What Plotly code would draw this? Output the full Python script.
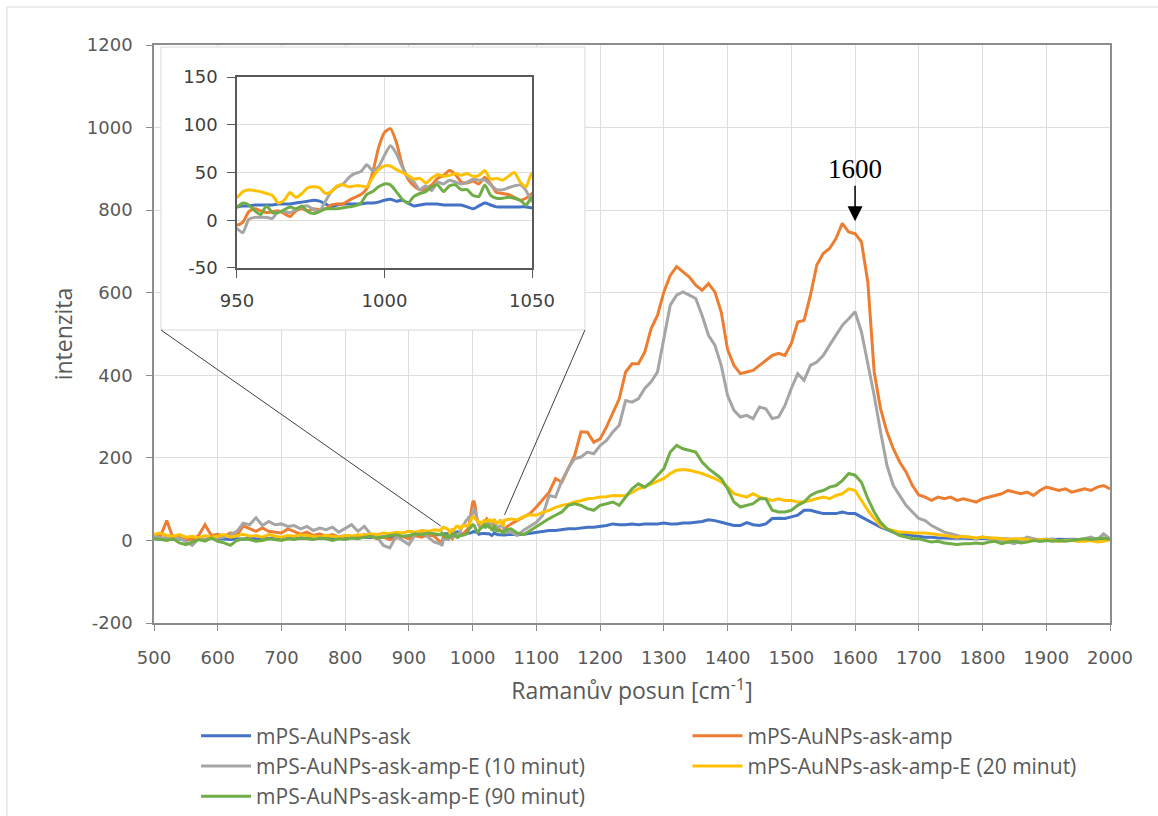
import plotly.graph_objects as go

# ---------------- data ----------------
X_LOW = list(range(500, 950, 10))      # 500..940
X_ZOOM = list(range(950, 1051, 2))     # 950..1050 (finer, shown in inset)
X_HIGH = list(range(1060, 2001, 10))   # 1060..2000
WAVENUMBER = X_LOW + X_ZOOM + X_HIGH

BLUE_LOW = [4, 3, 5, 2, 4, 3, 2, 4, 3, 5,
            4, 3, 2, 4, 3, 5, 4, 3, 5, 4,
            3, 5, 4, 6, 5, 4, 6, 5, 4, 6,
            5, 7, 6, 8, 7, 8, 9, 8, 10, 9,
            11, 12, 11, 13, 14]
BLUE_ZOOM = [14, 15, 15, 16, 16, 16, 16, 17, 17, 17,
             18, 19, 20, 21, 20, 17, 14, 16, 17, 17,
             17, 17, 18, 18, 19, 21, 22, 20, 21, 18,
             15, 16, 17, 17, 17, 16, 16, 16, 16, 14,
             12, 15, 18, 16, 14, 14, 14, 14, 14, 14, 13]
BLUE_HIGH = [15, 14, 15, 17,
             20, 22, 24, 24, 26, 28, 28, 30, 32, 32,
             34, 36, 40, 38, 38, 40, 38, 40, 40, 40,
             42, 40, 40, 42, 42, 44, 46, 50, 48, 44,
             40, 36, 36, 43, 38, 36, 40, 53, 54, 53,
             57, 61, 73, 73, 69, 65, 65, 65, 69, 65,
             65, 57, 48, 40, 32, 26, 20, 16, 14, 12,
             10, 8, 8, 6, 6, 5, 6, 5, 4, 4,
             5, 4, 3, 4, 3, 2, 3, 4, 3, 2,
             3, 2, 3, 2, 3, 2, 3, 2, 3, 4, 3]

ORANGE_LOW = [15, 10, 48, 5, 8, 4, 2, 12, 38, 12,
              15, 10, 18, 12, 35, 28, 22, 30, 22, 20,
              18, 28, 22, 15, 20, 12, 16, 10, 14, 8,
              12, 10, 6, 14, 10, 4, 8, 2, 6, 10,
              4, 12, 8, 14, 10]
ORANGE_ZOOM = [-5, -2, 9, 12, 10, 8, 9, 10, 7, 4,
               10, 12, 10, 12, 11, 12, 16, 17, 17, 21,
               24, 27, 33, 50, 76, 92, 96, 82, 58, 43,
               36, 32, 33, 37, 44, 47, 52, 48, 40, 39,
               41, 38, 45, 38, 29, 28, 27, 24, 21, 23, 28]
ORANGE_HIGH = [40, 48, 55, 65,
               81, 100, 117, 150, 141, 174, 206, 263, 262, 238,
               246, 275, 311, 343, 408, 428, 428, 456, 513, 545,
               602, 642, 663, 650, 638, 618, 606, 622, 602, 553,
               462, 424, 404, 408, 412, 424, 436, 448, 453, 448,
               477, 529, 533, 594, 667, 695, 707, 731, 768, 747,
               743, 723, 626, 408, 319, 263, 222, 190, 166, 133,
               110, 105, 97, 105, 101, 105, 97, 101, 97, 93,
               101, 105, 109, 113, 121, 117, 113, 117, 109, 121,
               129, 125, 121, 125, 117, 121, 125, 121, 129, 133, 125]

GRAY_LOW = [12, 5, 8, 2, 6, -4, -12, 4, 2, 6,
            5, 8, 14, 22, 42, 38, 55, 36, 46, 38,
            40, 34, 36, 28, 34, 24, 30, 26, 32, 20,
            30, 38, 22, 34, 15, 8, -12, -18, 10, 0,
            -10, 14, 22, 8, -4]
GRAY_ZOOM = [-9, -13, 1, 3, 3, 3, 2, 9, 9, 8,
             11, 14, 15, 11, 10, 20, 30, 35, 38, 45,
             49, 51, 58, 52, 56, 68, 78, 70, 56, 45,
             40, 32, 36, 31, 40, 38, 42, 40, 38, 40,
             43, 42, 42, 37, 32, 32, 34, 36, 37, 31, 20]
GRAY_HIGH = [20, 12, 25, 35,
             44, 61, 109, 105, 145, 175, 198, 202, 214, 210,
             230, 242, 263, 279, 339, 335, 343, 368, 384, 408,
             489, 570, 594, 602, 594, 586, 545, 497, 473, 424,
             351, 315, 299, 303, 295, 323, 319, 295, 299, 327,
             368, 404, 388, 424, 432, 448, 473, 497, 521, 537,
             554, 505, 432, 351, 263, 182, 133, 109, 85, 69,
             53, 48, 36, 28, 20, 16, 12, 8, 8, 4,
             8, 6, 4, 0, -4, -8, 0, 8, 4, -2,
             0, 4, -2, 0, 2, -2, 4, 8, 2, 16, 4]

YELLOW_LOW = [15, 18, 12, 10, 14, 8, 10, 6, 12, 8,
              10, 14, 8, 12, 15, 10, 12, 8, 14, 10,
              8, 12, 10, 14, 12, 10, 8, 12, 10, 8,
              12, 10, 14, 12, 16, 14, 18, 16, 20, 18,
              22, 20, 24, 22, 26]
YELLOW_ZOOM = [24, 30, 32, 31, 30, 28, 26, 18, 21, 29,
               24, 28, 34, 35, 34, 28, 30, 36, 37, 35,
               36, 36, 35, 45, 53, 57, 57, 53, 50, 47,
               43, 44, 39, 44, 48, 46, 47, 49, 47, 49,
               46, 47, 52, 43, 44, 42, 46, 50, 40, 35, 49]
YELLOW_HIGH = [52, 50, 58, 62,
               61, 68, 73, 80, 85, 88, 93, 96, 101, 102,
               105, 106, 109, 108, 109, 116, 125, 130, 137, 143,
               150, 162, 170, 172, 170, 166, 162, 156, 150, 142,
               130, 113, 109, 105, 113, 105, 101, 97, 101, 97,
               97, 93, 93, 97, 101, 105, 101, 109, 113, 125,
               121, 97, 73, 53, 36, 28, 24, 20, 20, 18,
               18, 18, 16, 14, 12, 10, 8, 10, 8, 6,
               8, 6, 6, 4, 2, 4, 4, 2, 0, 2,
               2, 0, -2, 0, 0, -2, -2, 0, -4, -2, 2]

GREEN_LOW = [5, 2, 0, 4, -6, -10, -4, 2, -2, 6,
             -2, -6, -12, 0, 4, 2, -2, 0, 4, 2,
             0, 4, 2, 6, 4, 2, 6, 4, 0, 4,
             2, 6, 4, 8, 10, 6, 8, 12, 14, 10,
             12, 16, 14, 18, 16]
GREEN_ZOOM = [14, 18, 16, 10, 6, 15, 8, 8, 11, 14,
              12, 15, 9, 7, 9, 12, 12, 12, 13, 14,
              15, 18, 27, 30, 35, 38, 37, 30, 22, 18,
              25, 28, 30, 35, 37, 30, 36, 37, 32, 32,
              26, 25, 37, 26, 23, 23, 24, 23, 21, 16, 24]
GREEN_HIGH = [28, 18, 14, 24,
              32, 44, 53, 61, 69, 85, 89, 85, 77, 73,
              85, 89, 93, 85, 105, 125, 137, 129, 141, 158,
              174, 214, 230, 222, 218, 214, 190, 174, 162, 150,
              125, 93, 81, 85, 89, 101, 101, 73, 69, 69,
              73, 85, 93, 109, 117, 121, 129, 133, 145, 162,
              158, 141, 101, 69, 44, 28, 20, 12, 8, 4,
              4, 0, -4, -2, -6, -8, -10, -8, -8, -6,
              -8, -4, -2, -8, -4, -2, -6, -4, 0, -2,
              0, -2, 0, -2, 0, 2, 4, 2, 4, 6, 2]

SERIES_NAMES = ["mPS-AuNPs-ask", "mPS-AuNPs-ask-amp", "mPS-AuNPs-ask-amp-E (10 minut)",
                "mPS-AuNPs-ask-amp-E (20 minut)", "mPS-AuNPs-ask-amp-E (90 minut)"]
SERIES_VALUES = [BLUE_LOW + BLUE_ZOOM + BLUE_HIGH,
                 ORANGE_LOW + ORANGE_ZOOM + ORANGE_HIGH,
                 GRAY_LOW + GRAY_ZOOM + GRAY_HIGH,
                 YELLOW_LOW + YELLOW_ZOOM + YELLOW_HIGH,
                 GREEN_LOW + GREEN_ZOOM + GREEN_HIGH]
SERIES_COLORS = ["#4472C4", "#ED7D31", "#A5A5A5", "#FFC000", "#70AD47"]
SERIES_LEGEND = ["legend", "legend2", "legend", "legend2", "legend"]

MAIN_X_TICKS = list(range(500, 2001, 100))
MAIN_Y_TICKS = list(range(-200, 1201, 200))
INSET_X_TICKS = [950, 1000, 1050]
INSET_Y_TICKS = [-50, 0, 50, 100, 150]
MAIN_X_RANGE = [MAIN_X_TICKS[0], MAIN_X_TICKS[-1]]
MAIN_Y_RANGE = [MAIN_Y_TICKS[0], MAIN_Y_TICKS[-1]]
INSET_X_RANGE = [INSET_X_TICKS[0], INSET_X_TICKS[-1]]
INSET_Y_RANGE = [INSET_Y_TICKS[0], INSET_Y_TICKS[-1]]
PEAK_LABEL_X = 1600
CONNECTOR_Y = [35, 62]

# ---------------- figure ----------------
fig = go.Figure()
for name, vals, col, lg in zip(SERIES_NAMES, SERIES_VALUES, SERIES_COLORS, SERIES_LEGEND):
    fig.add_trace(go.Scatter(x=WAVENUMBER, y=vals, name=name, mode="lines",
                             line=dict(color=col, width=3), legend=lg,
                             xaxis="x", yaxis="y"))
for name, vals, col in zip(SERIES_NAMES, SERIES_VALUES, SERIES_COLORS):
    fig.add_trace(go.Scatter(x=WAVENUMBER, y=vals, name=name, mode="lines",
                             line=dict(color=col, width=3, shape="spline", smoothing=0.6),
                             showlegend=False, xaxis="x2", yaxis="y2"))

TICK_FONT = dict(family="DejaVu Sans", size=18, color="#595959")
INSET_TICK_FONT = dict(family="DejaVu Sans", size=18, color="#404040")
LABEL_FONT = dict(family="Open Sans", size=21, color="#595959")
TITLE_FONT = dict(family="Open Sans", size=23, color="#595959")
AXIS_COLOR = "#8c8c8c"
GRID_COLOR = "#dedede"

fig.update_layout(
    width=1158, height=816,
    margin=dict(l=154, r=48, t=45, b=193, autoexpand=False),
    paper_bgcolor="white", plot_bgcolor="white",
    xaxis=dict(range=MAIN_X_RANGE, tickvals=MAIN_X_TICKS, ticktext=[str(v) for v in MAIN_X_TICKS],
               showgrid=True, gridcolor=GRID_COLOR,
               zeroline=False, showline=True, mirror=True, linecolor=AXIS_COLOR, linewidth=1.5,
               ticks="outside", ticklen=6, tickcolor=AXIS_COLOR, tickfont=TICK_FONT,
               ticklabelstandoff=12,
               title=dict(text="Ramanův posun [cm<sup>-1</sup>]", font=TITLE_FONT, standoff=16)),
    yaxis=dict(range=MAIN_Y_RANGE, tickvals=MAIN_Y_TICKS, ticktext=[str(v) for v in MAIN_Y_TICKS],
               showgrid=True, gridcolor=GRID_COLOR,
               zeroline=False, showline=True, mirror=True, linecolor=AXIS_COLOR, linewidth=1.5,
               ticks="outside", ticklen=6, tickcolor=AXIS_COLOR, tickfont=TICK_FONT,
               ticklabelstandoff=10,
               title=dict(text="intenzita", font=TITLE_FONT, standoff=8)),
    xaxis2=dict(domain=[0.0868, 0.3954], anchor="y2", range=INSET_X_RANGE,
                tickvals=INSET_X_TICKS, ticktext=[str(v) for v in INSET_X_TICKS],
                showgrid=True, gridcolor=GRID_COLOR, zeroline=False, showline=True, mirror=True,
                linecolor="#595959", linewidth=1.5, ticks="outside", ticklen=8, tickcolor="#595959",
                tickfont=INSET_TICK_FONT, ticklabelstandoff=8),
    yaxis2=dict(domain=[0.6142, 0.9446], anchor="x2", range=INSET_Y_RANGE,
                tickvals=INSET_Y_TICKS, ticktext=[str(v) for v in INSET_Y_TICKS],
                showgrid=True, gridcolor=GRID_COLOR, zeroline=False, showline=True, mirror=True,
                linecolor="#595959", linewidth=1.5, ticks="outside", ticklen=8, tickcolor="#595959",
                tickfont=INSET_TICK_FONT, ticklabelstandoff=6),
    legend=dict(x=0.044, y=-0.16, xanchor="left", yanchor="top", font=LABEL_FONT,
                itemwidth=50, bgcolor="rgba(0,0,0,0)", tracegroupgap=0),
    legend2=dict(x=0.558, y=-0.16, xanchor="left", yanchor="top", font=LABEL_FONT,
                 itemwidth=50, bgcolor="rgba(0,0,0,0)", tracegroupgap=0),
)


def dom_to_x(f):
    return MAIN_X_RANGE[0] + f * (MAIN_X_RANGE[1] - MAIN_X_RANGE[0])


def dom_to_y(f):
    return MAIN_Y_RANGE[0] + f * (MAIN_Y_RANGE[1] - MAIN_Y_RANGE[0])


# inset frame (white box above main gridlines, below traces)
BOX = dict(x0=0.0073, x1=0.4508, y0=0.5069, y1=0.9965)
fig.add_shape(type="rect", xref="x", yref="y", layer="between",
              x0=dom_to_x(BOX["x0"]), x1=dom_to_x(BOX["x1"]),
              y0=dom_to_y(BOX["y0"]), y1=dom_to_y(BOX["y1"]),
              fillcolor="white", line=dict(color="#d9d9d9", width=1))

for fx, tx, ty in [(BOX["x0"], INSET_X_RANGE[0], CONNECTOR_Y[0]),
                   (BOX["x1"], INSET_X_RANGE[1], CONNECTOR_Y[1])]:
    fig.add_shape(type="line", xref="x", yref="y", layer="above",
                  x0=dom_to_x(fx), y0=dom_to_y(BOX["y0"]), x1=tx, y1=ty,
                  line=dict(color="#404040", width=1))

# outer chart border (right/bottom edges lie beyond the picture)
fig.add_shape(type="rect", xref="paper", yref="paper", layer="below",
              x0=-0.1538, x1=1.06, y0=-0.36, y1=1.0657,
              line=dict(color="#d9d9d9", width=1), fillcolor="rgba(0,0,0,0)")

# peak annotation
orange = SERIES_VALUES[1]
peak_val = orange[WAVENUMBER.index(PEAK_LABEL_X)]
fig.add_annotation(x=PEAK_LABEL_X, y=peak_val + 30, xref="x", yref="y",
                   text=str(PEAK_LABEL_X), showarrow=True, arrowhead=2, arrowsize=2,
                   arrowwidth=1.5, arrowcolor="black", ax=0, ay=-52,
                   font=dict(family="Liberation Serif", size=27, color="black"))

fig.write_html("out.html")
